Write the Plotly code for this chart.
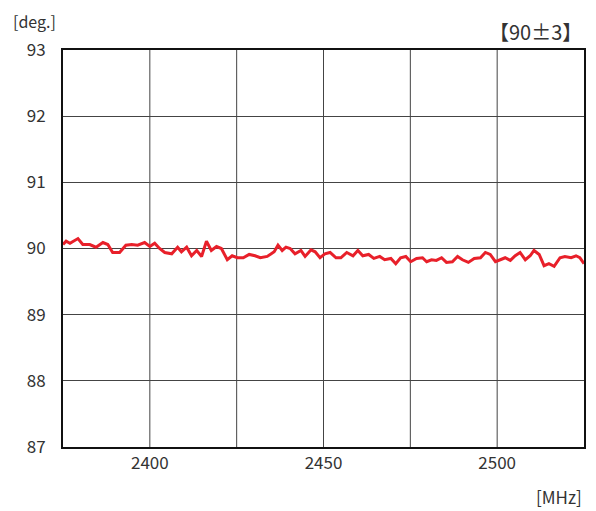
import plotly.graph_objects as go

freq_mhz = [2375.0, 2375.9, 2377.0, 2379.3, 2380.7, 2382.7, 2384.5, 2386.5, 2387.9, 2389.3,
            2391.3, 2393.1, 2394.8, 2396.5, 2398.5, 2400.0, 2401.4, 2402.8, 2404.3, 2406.3,
            2408.0, 2409.1, 2410.6, 2412.0, 2413.5, 2414.9, 2416.3, 2417.7, 2419.2, 2420.6,
            2422.3, 2423.7, 2425.2, 2426.9, 2428.6, 2430.3, 2431.8, 2433.8, 2435.8, 2436.9,
            2438.1, 2439.2, 2440.4, 2441.8, 2443.5, 2444.7, 2446.4, 2447.6, 2449.0, 2450.4,
            2451.9, 2453.6, 2455.0, 2456.7, 2458.5, 2459.9, 2461.3, 2463.0, 2464.5, 2466.2,
            2467.6, 2469.4, 2470.8, 2472.2, 2473.7, 2475.1, 2476.8, 2478.5, 2479.7, 2481.1,
            2482.5, 2484.0, 2485.4, 2487.1, 2488.6, 2490.0, 2491.7, 2493.4, 2495.2, 2496.6,
            2498.0, 2499.5, 2500.9, 2502.3, 2503.8, 2505.2, 2506.6, 2508.1, 2509.5, 2510.6,
            2512.1, 2513.5, 2514.9, 2516.4, 2518.1, 2519.5, 2521.3, 2522.7, 2523.8, 2525.0]

phase_deg = [90.06, 90.11, 90.08, 90.15, 90.06, 90.06, 90.02, 90.09, 90.06, 89.94,
             89.94, 90.05, 90.06, 90.05, 90.09, 90.03, 90.08, 90.00, 89.94, 89.92,
             90.02, 89.95, 90.02, 89.89, 89.97, 89.88, 90.11, 89.97, 90.03, 90.00,
             89.83, 89.89, 89.86, 89.86, 89.91, 89.89, 89.86, 89.88, 89.95, 90.05,
             89.97, 90.02, 90.00, 89.92, 89.97, 89.88, 89.98, 89.95, 89.86, 89.92,
             89.94, 89.86, 89.86, 89.94, 89.89, 89.97, 89.89, 89.91, 89.85, 89.88,
             89.83, 89.85, 89.77, 89.86, 89.88, 89.80, 89.85, 89.86, 89.80, 89.83,
             89.82, 89.86, 89.79, 89.80, 89.88, 89.83, 89.79, 89.85, 89.86, 89.94,
             89.91, 89.80, 89.83, 89.86, 89.82, 89.89, 89.94, 89.83, 89.89, 89.97,
             89.91, 89.74, 89.77, 89.73, 89.86, 89.88, 89.86, 89.89, 89.86, 89.77]

x_ticks = [2400, 2450, 2500]
x_grid = [2400, 2425, 2450, 2475, 2500]
y_ticks = [87, 88, 89, 90, 91, 92, 93]

FONT = "Noto Sans CJK JP, Noto Sans, sans-serif"
TXT = "#333333"

fig = go.Figure()
fig.add_trace(go.Scatter(x=freq_mhz, y=phase_deg, mode="lines",
                         line=dict(color="#E8202A", width=3), hoverinfo="skip"))

fig.update_layout(
    width=588, height=503,
    margin=dict(l=55, r=10, t=42, b=64),
    paper_bgcolor="white", plot_bgcolor="white",
    showlegend=False,
    font=dict(family=FONT, size=17, color=TXT),
    xaxis=dict(range=[2375, 2525], tickvals=x_ticks, ticks="", showgrid=False,
               zeroline=False, showline=True, linecolor="#111111", linewidth=2,
               mirror=True, tickfont=dict(size=17, color=TXT)),
    yaxis=dict(range=[87, 93], tickvals=y_ticks, ticks="", showgrid=True,
               gridcolor="#444444", gridwidth=1, zeroline=False, showline=True,
               linecolor="#111111", linewidth=2, mirror=True,
               tickfont=dict(size=17, color=TXT), ticklabelstandoff=12),
    annotations=[
        dict(text="[deg.]", xref="paper", yref="paper", x=-0.1, y=1.0, yshift=15,
             xanchor="left", yanchor="bottom", showarrow=False,
             font=dict(size=16, color=TXT)),
        dict(text="【90±3】", xref="paper", yref="paper", x=1.0, y=1.0, yshift=2,
             xanchor="right", yanchor="bottom", showarrow=False,
             font=dict(size=20, color=TXT)),
        dict(text="[MHz]", xref="paper", yref="paper", x=1.0, y=0, yshift=-35,
             xanchor="right", yanchor="top", showarrow=False,
             font=dict(size=17, color=TXT)),
    ],
)
for gx in x_grid:
    fig.add_shape(type="line", xref="x", yref="paper", x0=gx, x1=gx, y0=0, y1=1,
                  line=dict(color="#444444", width=1), layer="below")

fig.write_html("out.html")
